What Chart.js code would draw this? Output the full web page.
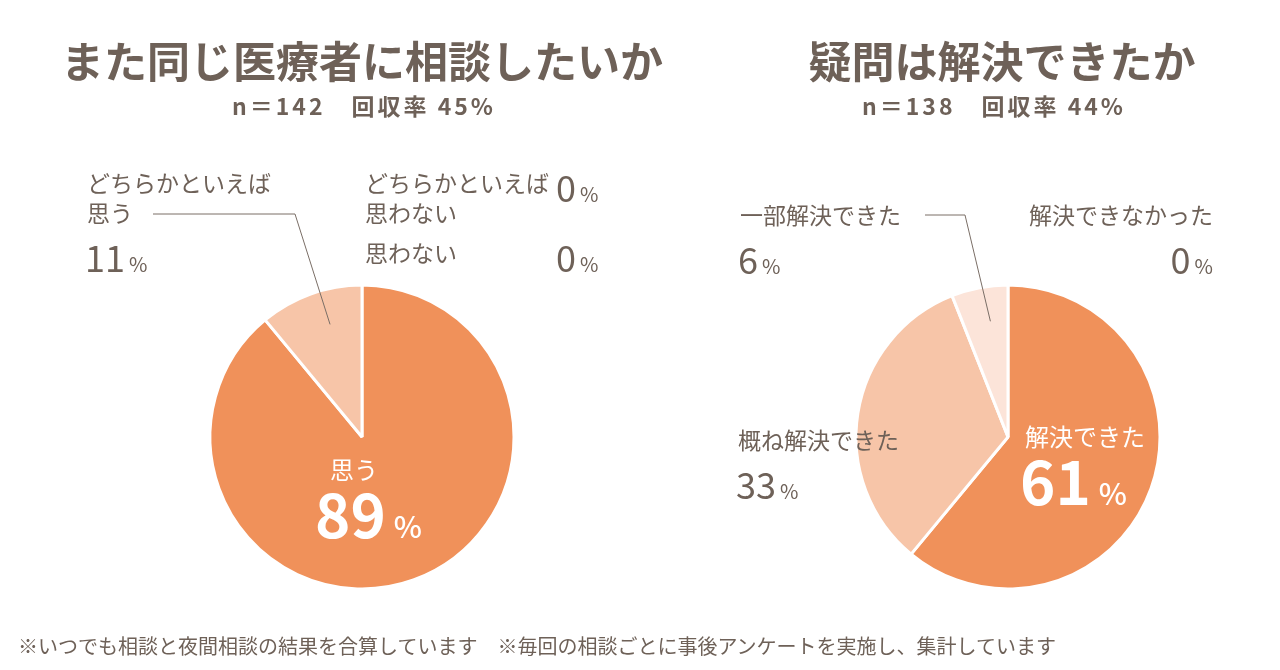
<!DOCTYPE html>
<html lang="ja">
<head>
<meta charset="utf-8">
<title>相談アンケート結果</title>
<script src="https://cdn.jsdelivr.net/npm/chart.js@4.4.1/dist/chart.umd.min.js"></script>
<style>
  html, body { margin: 0; padding: 0; background: #fff; }
  body { width: 1280px; height: 670px; position: relative; overflow: hidden;
         font-family: "Noto Sans CJK JP", "Noto Sans", sans-serif; color: #6e6158; }
  canvas { position: absolute; top: 0; }
  #left { left: 0; }
  #right { left: 640px; }
  .t { position: absolute; white-space: nowrap; line-height: 1; }
  .title { font-size: 43px; font-weight: 700; transform: translateX(-50%); }
  .sub { font-size: 23px; font-weight: 700; letter-spacing: 3px; transform: translateX(-50%); }
  .lab { font-size: 23px; font-weight: 400; }
  .num { font-size: 36px; font-weight: 400; }
  .num small { font-size: 20px; margin-left: 4px; }
  .in { color: #fff; }
  .in.lab { font-size: 24px; }
  .big { font-size: 60px; font-weight: 700; color: #fff; }
  .big small { font-size: 30px; font-weight: 500; margin-left: 8px; }
  .right { transform: translateX(-100%); }
  .note { font-size: 20px; top: 636px; }
</style>
</head>
<body>
<canvas id="left" width="640" height="670"></canvas>
<canvas id="right" width="640" height="670"></canvas>

<div class="t title" style="left:362px;top:38px">また同じ医療者に相談したいか</div>
<div class="t sub" style="left:364px;top:94px">n＝142　回収率 45%</div>
<div class="t title" style="left:1002px;top:38px">疑問は解決できたか</div>
<div class="t sub" style="left:994px;top:94px">n＝138　回収率 44%</div>

<div id="labels"></div>

<div class="t note" style="left:18px">※いつでも相談と夜間相談の結果を合算しています　※毎回の相談ごとに事後アンケートを実施し、集計しています</div>

<script>
// 左：また同じ医療者に相談したいか
const againLabels = [['思う'], ['どちらかといえば', '思う'], ['どちらかといえば', '思わない'], ['思わない']];
const againValues = [89, 11, 0, 0];

// 右：疑問は解決できたか
const solvedLabels = [['解決できた'], ['概ね解決できた'], ['一部解決できた'], ['解決できなかった']];
const solvedValues = [61, 33, 6, 0];

const colors = ['#f0915a', '#f7c5a8', '#fce4d9', '#fce4d9'];

// leader line from a slice to its outside label
const leaderLine = {
  id: 'leaderLine',
  afterDatasetsDraw(chart, args, opts) {
    if (opts.index == null) return;
    const arc = chart.getDatasetMeta(0).data[opts.index];
    const p = arc.getProps(['x', 'y', 'startAngle', 'endAngle', 'outerRadius'], true);
    const mid = p.startAngle + (p.endAngle - p.startAngle) * opts.at;
    const r = p.outerRadius * 0.77;
    const ctx = chart.ctx;
    ctx.save();
    ctx.strokeStyle = '#7a6e66';
    ctx.lineWidth = 1;
    ctx.beginPath();
    ctx.moveTo(p.x + Math.cos(mid) * r, p.y + Math.sin(mid) * r);
    ctx.lineTo(opts.elbow[0], opts.elbow[1]);
    ctx.lineTo(opts.end[0], opts.end[1]);
    ctx.stroke();
    ctx.restore();
  }
};

function makePie(id, labels, values, padLeft, leader) {
  return new Chart(document.getElementById(id), {
    type: 'pie',
    data: {
      labels: labels.map((l) => l.join('')),
      datasets: [{
        data: values,
        backgroundColor: colors,
        borderColor: '#ffffff',
        borderWidth: 3,
        radius: 152,
      }],
    },
    options: {
      responsive: false,
      animation: false,
      layout: { padding: { left: padLeft, right: 0, top: 204, bottom: 0 } },
      plugins: {
        legend: { display: false },
        tooltip: { enabled: false },
        leaderLine: leader,
      },
    },
    plugins: [leaderLine],
  });
}

makePie('left', againLabels, againValues, 84, { index: 1, at: 0.6, elbow: [295, 214], end: [153, 214] });
makePie('right', solvedLabels, solvedValues, 96, { index: 2, at: 0.6, elbow: [325, 215], end: [285, 215] });

// label text, placed around the pies
const place = [
  // [labels, values, index, x, y of first line, mode]
  [againLabels, againValues, 0, 330, 457, 'in', 315],
  [againLabels, againValues, 1, 87, 171, 'left'],
  [againLabels, againValues, 2, 365, 171, 'side'],
  [againLabels, againValues, 3, 365, 241, 'side'],
  [solvedLabels, solvedValues, 0, 1025, 424, 'in', 1020],
  [solvedLabels, solvedValues, 1, 738, 428, 'left'],
  [solvedLabels, solvedValues, 2, 740, 203, 'left'],
  [solvedLabels, solvedValues, 3, 1213, 203, 'rightAlign'],
];

const box = document.getElementById('labels');
function add(cls, html, x, y) {
  const d = document.createElement('div');
  d.className = 't ' + cls;
  d.style.left = x + 'px';
  d.style.top = y + 'px';
  d.innerHTML = html;
  box.appendChild(d);
}

place.forEach(([labels, values, i, x, y, mode, numX]) => {
  const lines = labels[i];
  const pct = values[i] + '<small>%</small>';
  if (mode === 'in') {
    add('lab in', lines[0], x, y);
    add('big', pct, numX, y + 25);
  } else if (mode === 'side') {
    lines.forEach((s, k) => add('lab', s, x, y + k * 30));
    add('num', pct, 556, y - 3);
  } else if (mode === 'rightAlign') {
    add('lab right', lines[0], x, y);
    add('num right', pct, x, y + 37);
  } else {
    lines.forEach((s, k) => add('lab', s, x, y + k * 30));
    add('num', pct, x - 2, y + (lines.length - 1) * 30 + 37);
  }
});
</script>
</body>
</html>
